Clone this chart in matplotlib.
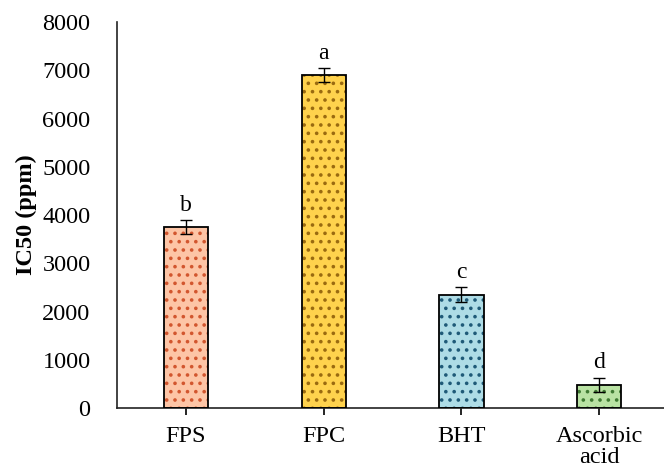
import matplotlib
matplotlib.use("Agg")
import matplotlib.pyplot as plt
import numpy as np

categories = ["FPS", "FPC", "BHT", "Ascorbic\nacid"]
values = [3750, 6900, 2350, 480]
errors = [150, 150, 150, 150]
letters = ["b", "a", "c", "d"]
fill_colors = ["#FDC5A6", "#FFD24D", "#AEDCE6", "#B9E2A3"]
dot_colors = ["#D2562E", "#9A6A10", "#1F5A78", "#3F7A32"]

plt.rcParams['font.family'] = ['Liberation Serif', 'DejaVu Serif']
plt.rcParams['hatch.linewidth'] = 1.4

fig = plt.figure(figsize=(6.64, 4.75), dpi=100)
ax = fig.add_axes([0.1762, 0.141, 0.8238, 0.8127])

x = np.arange(len(categories))
w = 0.32
for i in range(len(categories)):
    ax.bar(x[i], values[i], width=w, color=fill_colors[i], edgecolor=dot_colors[i],
           hatch='..', linewidth=0, zorder=2)
ax.bar(x, values, width=w, fill=False, edgecolor='black', linewidth=1.3, zorder=3)
ax.errorbar(x, values, yerr=errors, fmt='none', ecolor='black', elinewidth=1.0,
            capsize=4, capthick=1.0, zorder=4)
for i in range(len(categories)):
    ax.annotate(letters[i], (x[i], values[i] + errors[i]), xytext=(0, 3),
                textcoords='offset points', ha='center', va='bottom', fontsize=17)

ax.set_xlim(-0.5, 3.47)
ax.set_ylim(0, 8000)
ax.set_yticks(np.arange(0, 8001, 1000))
ax.set_xticks(x)
ax.set_xticklabels(categories, fontsize=17.5, linespacing=1.0)
ax.tick_params(axis='y', length=0, labelsize=17.5, pad=19)
ax.tick_params(axis='x', length=5, width=1.2, direction='out', pad=8)
ax.spines['top'].set_visible(False)
ax.spines['right'].set_visible(False)
for s in ['left', 'bottom']:
    ax.spines[s].set_linewidth(1.2)
    ax.spines[s].set_color('#222222')
ax.set_ylabel("IC50 (ppm)", fontsize=17.5, fontweight='bold', labelpad=4)

fig.savefig("out.png", dpi=100)
